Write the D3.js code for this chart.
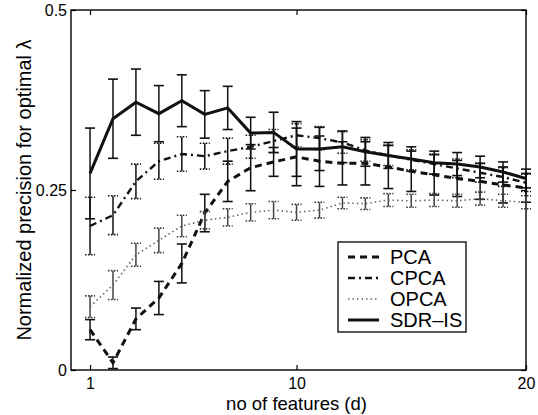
<!DOCTYPE html>
<html>
<head>
<meta charset="utf-8">
<script src="https://cdn.jsdelivr.net/npm/d3@7"></script>
<style>
  html, body { margin: 0; padding: 0; background: #fff; }
  svg { display: block; font-family: "Liberation Sans", Arial, Helvetica, sans-serif; }
</style>
</head>
<body>
<svg id="chart" width="538" height="415"></svg>
<script>
// number of features d
const features = d3.range(1, 21);

const pca    = [0.056, 0.010, 0.071, 0.100, 0.148, 0.218, 0.262, 0.281, 0.289, 0.296,
                0.290, 0.287, 0.287, 0.282, 0.276, 0.271, 0.266, 0.262, 0.257, 0.253];
const pcaErr = [0.014, 0.008, 0.015, 0.023, 0.027, 0.026, 0.028, 0.032, 0.020, 0.040,
                0.035, 0.030, 0.030, 0.030, 0.028, 0.028, 0.025, 0.025, 0.025, 0.020];

const cpca    = [0.200, 0.215, 0.262, 0.290, 0.300, 0.297, 0.304, 0.310, 0.318, 0.326,
                 0.322, 0.316, 0.305, 0.298, 0.292, 0.286, 0.280, 0.274, 0.268, 0.260];
const cpcaErr = [0.040, 0.027, 0.024, 0.025, 0.024, 0.018, 0.018, 0.016, 0.016, 0.016,
                 0.016, 0.015, 0.015, 0.014, 0.014, 0.014, 0.013, 0.013, 0.013, 0.012];

const opca    = [0.088, 0.118, 0.160, 0.180, 0.200, 0.208, 0.212, 0.219, 0.222, 0.219,
                 0.222, 0.232, 0.231, 0.236, 0.235, 0.236, 0.235, 0.238, 0.235, 0.233];
const opcaErr = [0.015, 0.020, 0.016, 0.017, 0.015, 0.012, 0.012, 0.012, 0.012, 0.011,
                 0.011, 0.008, 0.008, 0.009, 0.009, 0.009, 0.009, 0.009, 0.009, 0.009];

const sdr    = [0.273, 0.349, 0.372, 0.356, 0.374, 0.355, 0.364, 0.329, 0.330, 0.307,
                0.307, 0.310, 0.303, 0.298, 0.293, 0.288, 0.286, 0.282, 0.275, 0.266];
const sdrErr = [0.063, 0.055, 0.046, 0.039, 0.036, 0.033, 0.030, 0.022, 0.028, 0.038,
                0.030, 0.022, 0.020, 0.018, 0.017, 0.016, 0.016, 0.015, 0.014, 0.013];

const seriesNames = ["PCA", "CPCA", "OPCA", "SDR-IS"];
const legendLabels = ["PCA", "CPCA", "OPCA", "SDR\u2013IS"];
const xTicks = [1, 10, 20];
const yTicks = [0, 0.25, 0.5];
const yTickLabels = ["0", "0.25", "0.5"];

const series = [
  { name: seriesNames[0], label: legendLabels[0], y: pca,  err: pcaErr,  width: 3,   dash: "7,5",     color: "#111" },
  { name: seriesNames[1], label: legendLabels[1], y: cpca, err: cpcaErr, width: 2.4, dash: "7,4,2,4", color: "#111" },
  { name: seriesNames[2], label: legendLabels[2], y: opca, err: opcaErr, width: 1.6, dash: "1.5,3",   color: "#666" },
  { name: seriesNames[3], label: legendLabels[3], y: sdr,  err: sdrErr,  width: 3,   dash: null,      color: "#111" }
];

const margin = { top: 10, right: 12, bottom: 45, left: 71 };
const W = 538, H = 415;
const iw = W - margin.left - margin.right;
const ih = H - margin.top - margin.bottom;

const svg = d3.select("#chart");
const g = svg.append("g").attr("transform", `translate(${margin.left},${margin.top})`);

const x = d3.scaleLinear().domain([0.17, 20]).range([0, iw]);
const y = d3.scaleLinear().domain([0, 0.5]).range([ih, 0]);

// frame
g.append("rect")
  .attr("width", iw).attr("height", ih)
  .attr("fill", "none").attr("stroke", "#000").attr("stroke-width", 1.4);

// axes with inward ticks
const tickLen = 5;
g.append("g").attr("transform", `translate(0,${ih})`)
  .call(d3.axisBottom(x).tickValues(xTicks).tickSize(-tickLen).tickPadding(8).tickFormat(d3.format("d")))
  .call(a => a.select(".domain").remove());
g.append("g")
  .call(d3.axisTop(x).tickValues(xTicks).tickSize(-tickLen).tickFormat(""))
  .call(a => a.select(".domain").remove());
g.append("g")
  .call(d3.axisLeft(y).tickValues(yTicks).tickSize(-tickLen).tickPadding(4).tickFormat((d, i) => yTickLabels[i]))
  .call(a => a.select(".domain").remove());
g.append("g").attr("transform", `translate(${iw},0)`)
  .call(d3.axisRight(y).tickValues(yTicks).tickSize(-tickLen).tickFormat(""))
  .call(a => a.select(".domain").remove());

g.selectAll(".tick line").attr("stroke", "#000").attr("stroke-width", 1.2);
g.selectAll(".tick text").attr("fill", "#000").style("font-size", "16px");

// error bars and lines
const capHalf = 5;
const line = d3.line().x((d, i) => x(features[i])).y(d => y(d));

series.forEach(s => {
  const eb = g.append("g").attr("class", "errorbars");
  s.y.forEach((v, i) => {
    const cx = x(features[i]);
    const top = y(v + s.err[i]);
    const bot = y(v - s.err[i]);
    eb.append("line").attr("x1", cx).attr("x2", cx).attr("y1", top).attr("y2", bot)
      .attr("stroke", s.name === "OPCA" ? "#444" : s.color).attr("stroke-width", 1.5);
    [top, bot].forEach(yy => {
      eb.append("line").attr("x1", cx - capHalf).attr("x2", cx + capHalf).attr("y1", yy).attr("y2", yy)
        .attr("stroke", s.name === "OPCA" ? "#333" : s.color).attr("stroke-width", 1.6)
        .attr("stroke-dasharray", s.name === "OPCA" || s.name === "CPCA" ? "1.5,1.5" : null);
    });
  });
  g.append("path").datum(s.y)
    .attr("d", line)
    .attr("fill", "none")
    .attr("stroke", s.color)
    .attr("stroke-width", s.width)
    .attr("stroke-dasharray", s.dash);
});

// legend
const lg = svg.append("g").attr("transform", "translate(338,242)");
lg.append("rect").attr("width", 128).attr("height", 90)
  .attr("fill", "#fff").attr("stroke", "#000").attr("stroke-width", 1.3);
series.forEach((s, i) => {
  const ly = 15 + i * 21;
  lg.append("line").attr("x1", 10).attr("x2", 41).attr("y1", ly).attr("y2", ly)
    .attr("stroke", s.color).attr("stroke-width", s.width).attr("stroke-dasharray", s.dash);
  lg.append("text").attr("x", 52).attr("y", ly).attr("dy", "0.35em")
    .style("font-size", "20px").text(s.label);
});

// axis labels
svg.append("text")
  .attr("x", margin.left + x(10)).attr("y", 410)
  .attr("text-anchor", "middle").style("font-size", "18.5px")
  .text("no of features (d)");
svg.append("text")
  .attr("transform", `translate(24,${margin.top + ih / 2}) rotate(-90)`)
  .attr("text-anchor", "middle").attr("dy", "0.35em").style("font-size", "20px")
  .text("Normalized precision for optimal \u03bb");
</script>
</body>
</html>
